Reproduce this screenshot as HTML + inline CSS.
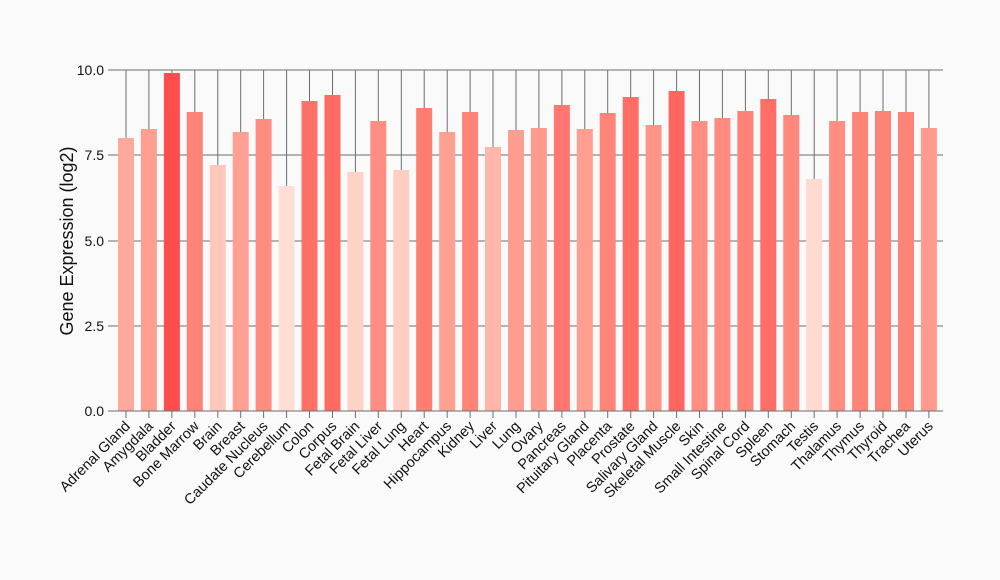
<!DOCTYPE html>
<html><head><meta charset="utf-8"><style>
body{margin:0;background:#fafafa;}
svg{display:block;font-family:"Liberation Sans",Arial,sans-serif;}
</style></head><body>
<svg width="1000" height="580" viewBox="0 0 1000 580">
<rect width="1000" height="580" fill="#fafafa"/>
<g stroke="#6e6e6e" stroke-width="1">
<line x1="112" y1="70" x2="943" y2="70"/><line x1="112" y1="155" x2="943" y2="155"/><line x1="112" y1="241" x2="943" y2="241"/><line x1="112" y1="326" x2="943" y2="326"/>
<line x1="108" y1="70" x2="112" y2="70"/><line x1="108" y1="155" x2="112" y2="155"/><line x1="108" y1="241" x2="112" y2="241"/><line x1="108" y1="326" x2="112" y2="326"/><line x1="108" y1="411" x2="112" y2="411"/>
</g>
<g stroke="#6e6e6e" stroke-width="1">
<path d="M126 70V418M148.9 70V418M171.9 70V418M194.8 70V418M217.8 70V418M240.7 70V418M263.6 70V418M286.6 70V418M309.5 70V418M332.5 70V418M355.4 70V418M378.3 70V418M401.3 70V418M424.2 70V418M447.2 70V418M470.1 70V418M493 70V418M516 70V418M538.9 70V418M561.9 70V418M584.8 70V418M607.7 70V418M630.7 70V418M653.6 70V418M676.6 70V418M699.5 70V418M722.4 70V418M745.4 70V418M768.3 70V418M791.3 70V418M814.2 70V418M837.1 70V418M860.1 70V418M883 70V418M906 70V418M928.9 70V418"/>
</g>
<g>
<rect x="118" y="138" width="16" height="273" fill="#FFA89C"/>
<rect x="140.9" y="129" width="16" height="282" fill="#FF9D90"/>
<rect x="163.9" y="73" width="16" height="338" fill="#FF4D4D"/>
<rect x="186.8" y="112" width="16" height="299" fill="#FF8478"/>
<rect x="209.8" y="165" width="16" height="246" fill="#FFC8BB"/>
<rect x="232.7" y="132" width="16" height="279" fill="#FFA093"/>
<rect x="255.6" y="119" width="16" height="292" fill="#FF8C80"/>
<rect x="278.6" y="186" width="16" height="225" fill="#FFDED5"/>
<rect x="301.5" y="101" width="16" height="310" fill="#FF7068"/>
<rect x="324.5" y="95" width="16" height="316" fill="#FF6B63"/>
<rect x="347.4" y="172" width="16" height="239" fill="#FFD2C6"/>
<rect x="370.3" y="121" width="16" height="290" fill="#FF8E82"/>
<rect x="393.3" y="170" width="16" height="241" fill="#FFCEC2"/>
<rect x="416.2" y="108" width="16" height="303" fill="#FF7D73"/>
<rect x="439.2" y="132" width="16" height="279" fill="#FFA093"/>
<rect x="462.1" y="112" width="16" height="299" fill="#FF8478"/>
<rect x="485" y="147" width="16" height="264" fill="#FFB5A8"/>
<rect x="508" y="130" width="16" height="281" fill="#FF9D90"/>
<rect x="530.9" y="128" width="16" height="283" fill="#FF9B8E"/>
<rect x="553.9" y="105" width="16" height="306" fill="#FF776E"/>
<rect x="576.8" y="129" width="16" height="282" fill="#FF9D90"/>
<rect x="599.7" y="113" width="16" height="298" fill="#FF8579"/>
<rect x="622.7" y="97" width="16" height="314" fill="#FF6D65"/>
<rect x="645.6" y="125" width="16" height="286" fill="#FF9588"/>
<rect x="668.6" y="91" width="16" height="320" fill="#FF6660"/>
<rect x="691.5" y="121" width="16" height="290" fill="#FF8E82"/>
<rect x="714.4" y="118" width="16" height="293" fill="#FF8A7E"/>
<rect x="737.4" y="111" width="16" height="300" fill="#FF8276"/>
<rect x="760.3" y="99" width="16" height="312" fill="#FF6F67"/>
<rect x="783.3" y="115" width="16" height="296" fill="#FF877B"/>
<rect x="806.2" y="179" width="16" height="232" fill="#FFDAD0"/>
<rect x="829.1" y="121" width="16" height="290" fill="#FF8E82"/>
<rect x="852.1" y="112" width="16" height="299" fill="#FF8478"/>
<rect x="875" y="111" width="16" height="300" fill="#FF8276"/>
<rect x="898" y="112" width="16" height="299" fill="#FF8478"/>
<rect x="920.9" y="128" width="16" height="283" fill="#FF9B8E"/>
</g>
<line x1="108" y1="411" x2="943" y2="411" stroke="#6e6e6e"/>
<g font-size="14" fill="#111" text-anchor="end">
<text x="104" y="75">10.0</text><text x="104" y="160">7.5</text><text x="104" y="246">5.0</text><text x="104" y="331">2.5</text><text x="104" y="416">0.0</text>
</g>
<text transform="translate(73,241) rotate(-90)" font-size="18" text-anchor="middle" fill="#111">Gene Expression (log2)</text>
<g font-size="14.5" fill="#111" text-anchor="end">
<text transform="translate(131,427) rotate(-45)">Adrenal Gland</text>
<text transform="translate(153.9,427) rotate(-45)">Amygdala</text>
<text transform="translate(176.9,427) rotate(-45)">Bladder</text>
<text transform="translate(199.8,427) rotate(-45)">Bone Marrow</text>
<text transform="translate(222.8,427) rotate(-45)">Brain</text>
<text transform="translate(245.7,427) rotate(-45)">Breast</text>
<text transform="translate(268.6,427) rotate(-45)">Caudate Nucleus</text>
<text transform="translate(291.6,427) rotate(-45)">Cerebellum</text>
<text transform="translate(314.5,427) rotate(-45)">Colon</text>
<text transform="translate(337.5,427) rotate(-45)">Corpus</text>
<text transform="translate(360.4,427) rotate(-45)">Fetal Brain</text>
<text transform="translate(383.3,427) rotate(-45)">Fetal Liver</text>
<text transform="translate(406.3,427) rotate(-45)">Fetal Lung</text>
<text transform="translate(429.2,427) rotate(-45)">Heart</text>
<text transform="translate(452.2,427) rotate(-45)">Hippocampus</text>
<text transform="translate(475.1,427) rotate(-45)">Kidney</text>
<text transform="translate(498,427) rotate(-45)">Liver</text>
<text transform="translate(521,427) rotate(-45)">Lung</text>
<text transform="translate(543.9,427) rotate(-45)">Ovary</text>
<text transform="translate(566.9,427) rotate(-45)">Pancreas</text>
<text transform="translate(589.8,427) rotate(-45)">Pituitary Gland</text>
<text transform="translate(612.7,427) rotate(-45)">Placenta</text>
<text transform="translate(635.7,427) rotate(-45)">Prostate</text>
<text transform="translate(658.6,427) rotate(-45)">Salivary Gland</text>
<text transform="translate(681.6,427) rotate(-45)">Skeletal Muscle</text>
<text transform="translate(704.5,427) rotate(-45)">Skin</text>
<text transform="translate(727.4,427) rotate(-45)">Small Intestine</text>
<text transform="translate(750.4,427) rotate(-45)">Spinal Cord</text>
<text transform="translate(773.3,427) rotate(-45)">Spleen</text>
<text transform="translate(796.3,427) rotate(-45)">Stomach</text>
<text transform="translate(819.2,427) rotate(-45)">Testis</text>
<text transform="translate(842.1,427) rotate(-45)">Thalamus</text>
<text transform="translate(865.1,427) rotate(-45)">Thymus</text>
<text transform="translate(888,427) rotate(-45)">Thyroid</text>
<text transform="translate(911,427) rotate(-45)">Trachea</text>
<text transform="translate(933.9,427) rotate(-45)">Uterus</text>
</g>
</svg>
</body></html>
